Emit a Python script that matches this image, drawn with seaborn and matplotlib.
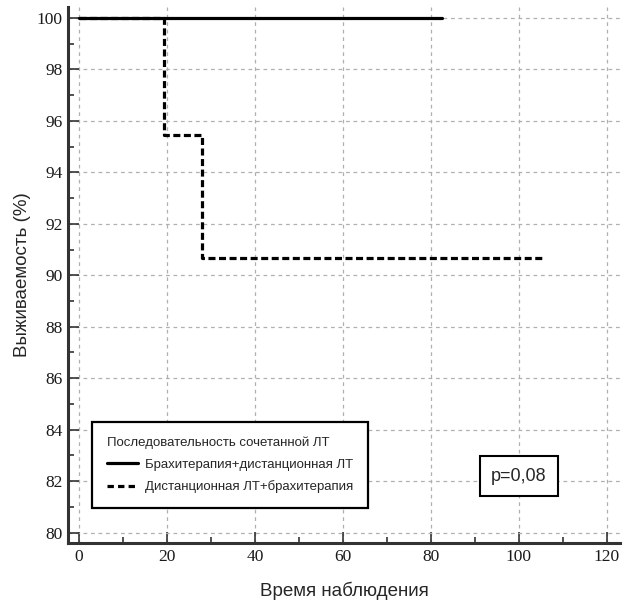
import matplotlib
matplotlib.use('Agg')
import matplotlib.pyplot as plt
import pandas as pd
import numpy as np
import seaborn as sns

# survival curves (Kaplan-Meier style steps)
brachy_first_time = [0, 82.5]
brachy_first_surv = [100, 100]
external_first_time = [0, 19.3, 28, 105.8]
external_first_surv = [100, 95.43, 90.66, 90.66]

group_names = ['Брахитерапия+дистанционная ЛТ', 'Дистанционная ЛТ+брахитерапия']
legend_title = 'Последовательность сочетанной ЛТ'
p_text = 'p=0,08'

x_ticks = [0, 20, 40, 60, 80, 100, 120]
y_ticks = [80, 82, 84, 86, 88, 90, 92, 94, 96, 98, 100]

df = pd.DataFrame({
    'time': brachy_first_time + external_first_time,
    'surv': brachy_first_surv + external_first_surv,
    'group': [group_names[0]] * len(brachy_first_time) + [group_names[1]] * len(external_first_time),
})

sns.set_style('white')
plt.rcParams['font.family'] = ['Liberation Sans', 'DejaVu Sans']

fig = plt.figure(figsize=(6.3, 6.03), dpi=100)
ax = fig.add_axes([68 / 630, 1 - 543 / 603, 552 / 630, 536 / 603])

d1 = df[df['group'] == group_names[0]]
d2 = df[df['group'] == group_names[1]]
sns.lineplot(data=d1, x='time', y='surv', ax=ax, color='black', linewidth=2.3,
             drawstyle='steps-post', label=group_names[0], zorder=4)
sns.lineplot(data=d2, x='time', y='surv', ax=ax, color='black', linewidth=2.3,
             drawstyle='steps-post', label=group_names[1], zorder=3)
ax.lines[1].set_dashes((2.2, 1.1))

ax.set_xlim(-2.5, 123)
ax.set_ylim(79.6, 100.42)
ax.set_xticks(x_ticks)
ax.set_yticks(y_ticks)
ax.set_xticks(np.arange(10, 120, 20), minor=True)
ax.set_yticks(np.arange(81, 100, 2), minor=True)

ax.grid(True, which='major', color='#b0b0b0', linestyle=(0, (3, 3)), linewidth=0.9)
for s in ['top', 'right']:
    ax.spines[s].set_visible(False)
for s in ['left', 'bottom']:
    ax.spines[s].set_color('#333333')
    ax.spines[s].set_linewidth(2.2)

ax.tick_params(which='both', bottom=True, left=True, direction='in', color='#333333')
ax.tick_params(which='major', length=8, width=1.2, pad=4)
ax.tick_params(which='minor', length=4, width=1.2)
for lab in ax.get_xticklabels() + ax.get_yticklabels():
    lab.set_family(['Liberation Serif', 'DejaVu Serif'])
    lab.set_fontsize(12.5)
    lab.set_color('#1a1a1a')

ax.set_xlabel('Время наблюдения', fontsize=13.5, labelpad=12)
ax.set_ylabel('Выживаемость (%)', fontsize=13.5, labelpad=4)

leg = ax.legend(title=legend_title, loc='lower left', bbox_to_anchor=(0.0435, 0.0653),
                borderaxespad=0, fontsize=9.5, title_fontsize=9.5, frameon=True,
                framealpha=1, fancybox=False, edgecolor='black', handlelength=2.4,
                borderpad=1.1, labelspacing=0.75, handletextpad=0.55)
leg.get_frame().set_linewidth(1.6)
leg._legend_box.align = 'left'
leg.get_lines()[1].set_dashes((2.0, 1.3))

ax.text(100, 82.2, p_text, fontsize=13, ha='center', va='center',
        bbox=dict(boxstyle='square,pad=0.62', facecolor='white', edgecolor='black', linewidth=1.5),
        zorder=5)

fig.savefig('out.png', dpi=100)
